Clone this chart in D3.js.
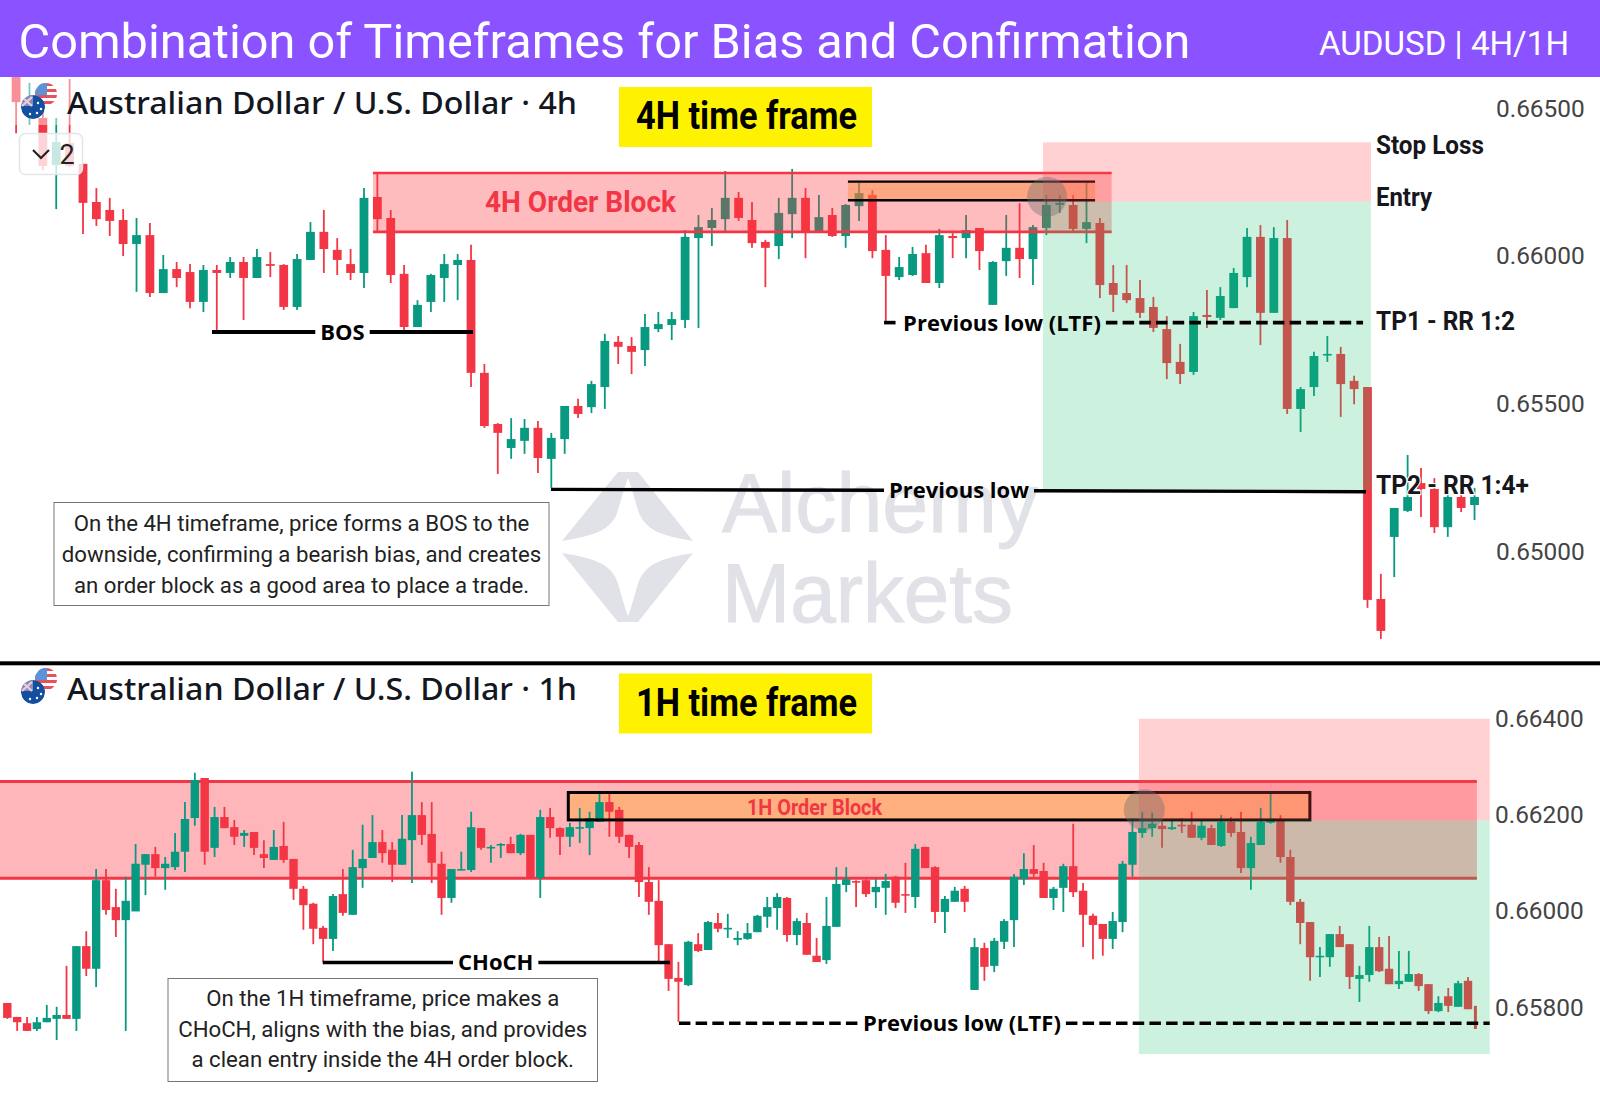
<!DOCTYPE html>
<html>
<head>
<meta charset="utf-8">
<title>Combination of Timeframes</title>
<script src="https://cdn.jsdelivr.net/npm/d3@7"></script>
<style>
  html, body { margin: 0; padding: 0; background: #fff; }
  svg { display: block; }
</style>
</head>
<body>
<div id="chart"></div>
<script>
// ---- 4H candles
var h4Open = [0.6663,0.66504,0.66467,0.66308,0.66382,0.66312,0.66183,0.66156,0.66122,0.66041,0.66071,0.65875,0.65956,0.65946,0.65845,0.65953,0.65943,0.6598,0.65926,0.65973,0.6597,0.65828,0.65987,0.66082,0.66021,0.65973,0.65943,0.662,0.66129,0.6594,0.6576,0.65845,0.65926,0.6597,0.65987,0.65605,0.65432,0.65351,0.65375,0.65419,0.65314,0.65381,0.65493,0.65489,0.65557,0.6571,0.65696,0.65682,0.65753,0.65767,0.65784,0.66061,0.66095,0.66125,0.66197,0.66122,0.66048,0.66034,0.66142,0.66197,0.66085,0.66139,0.66068,0.66169,0.66207,0.66021,0.65929,0.65936,0.6601,0.65909,0.66068,0.66061,0.66095,0.65835,0.65983,0.66028,0.6599,0.66095,0.66173,0.66173,0.66092,0.66112,0.65909,0.65875,0.65858,0.65828,0.65753,0.65642,0.65608,0.65801,0.65791,0.65824,0.65929,0.66065,0.65808,0.66061,0.65483,0.65557,0.65665,0.65669,0.65578,0.65557,0.6484,0.6505,0.65138,0.65232,0.65212,0.65083,0.65185,0.65158];
var h4High = [0.6663,0.66586,0.66488,0.66467,0.66599,0.66312,0.6623,0.66197,0.66159,0.66129,0.66112,0.66004,0.6598,0.65973,0.6597,0.6597,0.65997,0.65997,0.66024,0.66014,0.65973,0.66007,0.66115,0.66156,0.66061,0.66024,0.6623,0.66281,0.66156,0.6597,0.65851,0.6594,0.66007,0.66007,0.66038,0.65635,0.65435,0.65452,0.65449,0.65442,0.65402,0.65493,0.65517,0.65578,0.65737,0.6573,0.65726,0.65804,0.65811,0.65811,0.66088,0.66139,0.66163,0.66288,0.66217,0.66183,0.66055,0.66197,0.66295,0.6623,0.66207,0.66163,0.66176,0.66247,0.66223,0.66071,0.65997,0.66031,0.66038,0.66092,0.66078,0.66139,0.66095,0.65983,0.66139,0.66179,0.66105,0.66207,0.66207,0.66207,0.66247,0.66129,0.6597,0.6597,0.65919,0.65862,0.65797,0.65703,0.65811,0.65885,0.65895,0.6596,0.66095,0.66105,0.66098,0.66122,0.65557,0.65676,0.6573,0.65693,0.65595,0.65557,0.64925,0.65148,0.65327,0.65283,0.65249,0.65219,0.65209,0.65216];
var h4Low = [0.66416,0.66444,0.66291,0.66159,0.66301,0.66075,0.66102,0.66068,0.66,0.65879,0.65862,0.65875,0.65895,0.65824,0.65811,0.65743,0.65926,0.65784,0.65926,0.65929,0.65818,0.65818,0.65987,0.65943,0.65936,0.65919,0.65892,0.66078,0.65909,0.6575,0.6576,0.65811,0.65845,0.65851,0.65557,0.65419,0.65263,0.65314,0.65331,0.65266,0.65216,0.65331,0.65452,0.65469,0.65483,0.65635,0.65601,0.65628,0.65743,0.65716,0.65757,0.65757,0.66034,0.66085,0.66119,0.66028,0.65895,0.6599,0.66061,0.65993,0.66082,0.66065,0.66028,0.66119,0.65993,0.65777,0.65919,0.65933,0.65909,0.65892,0.65993,0.65993,0.65953,0.65835,0.65933,0.65926,0.65902,0.66071,0.66146,0.66082,0.66044,0.65858,0.65811,0.65841,0.65791,0.65743,0.65584,0.65567,0.65598,0.65757,0.65784,0.65824,0.65895,0.65699,0.65808,0.65466,0.65405,0.65527,0.65642,0.65456,0.65499,0.6481,0.64705,0.64914,0.65134,0.65117,0.65063,0.6505,0.65134,0.65107];
var h4Close = [0.66521,0.66515,0.66305,0.66386,0.66305,0.6618,0.66125,0.66119,0.66041,0.66071,0.65875,0.65956,0.65926,0.65845,0.65953,0.65943,0.6598,0.65926,0.65997,0.65967,0.65828,0.6599,0.66082,0.66024,0.65987,0.65943,0.66197,0.66125,0.65936,0.6576,0.65835,0.65936,0.65973,0.65987,0.65605,0.65425,0.65402,0.65381,0.65419,0.65317,0.65385,0.65493,0.65466,0.65567,0.65713,0.65693,0.65676,0.6576,0.6577,0.65787,0.66065,0.66098,0.66122,0.66197,0.66129,0.66044,0.66028,0.66146,0.66197,0.66082,0.66132,0.66068,0.66173,0.66213,0.66017,0.65933,0.65963,0.66007,0.65909,0.66071,0.66061,0.66088,0.66017,0.6598,0.66028,0.6599,0.66098,0.66173,0.6618,0.66092,0.66115,0.65902,0.65869,0.65851,0.65808,0.65757,0.65638,0.65601,0.65797,0.65794,0.65865,0.65943,0.66065,0.65808,0.66061,0.65483,0.6555,0.65662,0.65669,0.65567,0.6555,0.64837,0.64732,0.65148,0.65185,0.65212,0.65083,0.65185,0.65148,0.65185];

// ---- 1H candles
var h1Open = [0.65809,0.6578,0.65767,0.65755,0.65769,0.65776,0.65784,0.65776,0.65927,0.6588,0.66064,0.66008,0.65981,0.65999,0.66096,0.66118,0.66089,0.66091,0.66123,0.66193,0.66276,0.66131,0.66195,0.66174,0.66156,0.66164,0.66118,0.66106,0.66135,0.66108,0.66046,0.66015,0.65965,0.65942,0.66035,0.65992,0.66089,0.6611,0.66143,0.66127,0.66096,0.66147,0.66199,0.6616,0.66098,0.66027,0.66085,0.66085,0.66172,0.66131,0.66137,0.66139,0.6612,0.66158,0.66069,0.66195,0.66172,0.66154,0.66172,0.66172,0.66185,0.66226,0.6621,0.66158,0.66137,0.6606,0.66021,0.65931,0.65861,0.65846,0.65931,0.65919,0.65975,0.65963,0.6594,0.65942,0.65956,0.65988,0.66006,0.66027,0.6595,0.65975,0.65907,0.65898,0.65967,0.66054,0.66062,0.66064,0.66039,0.66048,0.66071,0.66035,0.66029,0.66133,0.66091,0.65998,0.66019,0.66046,0.65836,0.65923,0.65886,0.65936,0.65981,0.66066,0.66087,0.66083,0.66027,0.66048,0.66093,0.66042,0.6599,0.65973,0.65942,0.65977,0.66096,0.66162,0.66172,0.66177,0.6617,0.66179,0.66179,0.66152,0.66172,0.66135,0.66185,0.66164,0.66089,0.66137,0.66183,0.66187,0.66112,0.66019,0.65977,0.65904,0.65904,0.65952,0.65931,0.65859,0.65867,0.65925,0.6588,0.65848,0.65853,0.65869,0.65848,0.65792,0.65823,0.65801,0.65855,0.65803];
var h1High = [0.65809,0.6578,0.6578,0.6578,0.65805,0.65801,0.65886,0.65927,0.65958,0.66087,0.66087,0.66046,0.66071,0.66139,0.66118,0.66133,0.66112,0.66162,0.66226,0.66287,0.66276,0.66216,0.66216,0.66189,0.66168,0.66164,0.66147,0.66168,0.66185,0.66108,0.66052,0.66017,0.65969,0.66035,0.66087,0.66127,0.66179,0.66199,0.66168,0.66143,0.66199,0.66289,0.66226,0.66226,0.66123,0.66087,0.66123,0.66206,0.66172,0.66137,0.66141,0.66154,0.6616,0.66158,0.6621,0.66214,0.66174,0.66183,0.66214,0.66206,0.66245,0.66245,0.66216,0.66158,0.66143,0.66091,0.66064,0.65931,0.65894,0.65938,0.65954,0.65979,0.65996,0.65994,0.65958,0.65975,0.65992,0.66029,0.66037,0.66029,0.65985,0.65996,0.65944,0.66029,0.66091,0.66091,0.66064,0.66066,0.66066,0.66077,0.66073,0.661,0.66139,0.66133,0.66093,0.66031,0.6605,0.66052,0.65944,0.65934,0.65944,0.65983,0.66077,0.6612,0.66137,0.661,0.6605,0.66098,0.66181,0.66058,0.65994,0.65973,0.65998,0.66104,0.66193,0.66206,0.66204,0.66185,0.66187,0.66193,0.66206,0.66187,0.66179,0.66199,0.66195,0.66206,0.66154,0.66214,0.66245,0.66199,0.66127,0.66025,0.65977,0.65925,0.65952,0.65969,0.65931,0.65886,0.65969,0.65946,0.65948,0.65917,0.65917,0.65871,0.65848,0.65823,0.6584,0.65855,0.65863,0.65803];
var h1Low = [0.65776,0.65751,0.65751,0.65751,0.65769,0.65732,0.65776,0.65751,0.65865,0.65842,0.65992,0.65946,0.65751,0.66015,0.66033,0.66071,0.66044,0.66085,0.66081,0.66177,0.66096,0.66112,0.66172,0.66137,0.66133,0.66116,0.66089,0.66106,0.661,0.66023,0.65961,0.65931,0.65894,0.65917,0.6599,0.65992,0.66048,0.6611,0.661,0.6606,0.66096,0.66058,0.66137,0.66058,0.65992,0.66017,0.66085,0.66081,0.66127,0.661,0.6611,0.6612,0.66116,0.66069,0.66027,0.66152,0.66116,0.66133,0.66141,0.66116,0.66185,0.66154,0.66141,0.6611,0.66029,0.65992,0.65894,0.65834,0.6577,0.65844,0.65915,0.65919,0.65956,0.65944,0.65929,0.6594,0.65956,0.65965,0.65961,0.65936,0.65929,0.65909,0.65894,0.6589,0.65967,0.66039,0.66008,0.66029,0.66006,0.65992,0.66006,0.65996,0.66006,0.66089,0.65975,0.65954,0.66019,0.65998,0.65836,0.65855,0.65873,0.65921,0.65925,0.66054,0.66071,0.66027,0.66002,0.65998,0.66029,0.65925,0.659,0.65907,0.65921,0.65956,0.66071,0.66152,0.66154,0.66131,0.66168,0.66162,0.66152,0.66147,0.66137,0.66133,0.66154,0.66079,0.66044,0.66137,0.66181,0.661,0.66012,0.65931,0.65855,0.65863,0.65884,0.65925,0.65838,0.65811,0.65853,0.65873,0.65848,0.65838,0.65853,0.65834,0.65786,0.6579,0.6579,0.65801,0.65796,0.65755];
var h1Close = [0.65778,0.65769,0.65751,0.65769,0.65778,0.65784,0.65776,0.65927,0.6588,0.66064,0.66002,0.65981,0.66021,0.66098,0.66118,0.66089,0.66098,0.66123,0.66191,0.66272,0.66123,0.66195,0.66172,0.66154,0.66162,0.66131,0.6611,0.66133,0.66106,0.66046,0.66012,0.65963,0.65942,0.66031,0.65996,0.66091,0.66108,0.66143,0.6612,0.66096,0.6615,0.66199,0.66158,0.661,0.66027,0.66087,0.66087,0.66174,0.66131,0.66133,0.66139,0.6612,0.66158,0.66069,0.66195,0.66172,0.66154,0.66174,0.66174,0.66193,0.66226,0.66206,0.66154,0.66133,0.6606,0.66019,0.65929,0.65859,0.65853,0.65936,0.65917,0.65977,0.65963,0.65965,0.65944,0.65954,0.6599,0.66008,0.66029,0.6595,0.65979,0.65909,0.65894,0.65969,0.66056,0.66066,0.6606,0.66035,0.6605,0.66062,0.66017,0.66033,0.66129,0.66089,0.65998,0.66025,0.66042,0.66019,0.65925,0.65884,0.65938,0.65979,0.66071,0.66087,0.66077,0.66027,0.66046,0.66093,0.66039,0.65992,0.65971,0.65942,0.65979,0.66098,0.66164,0.66172,0.66181,0.6617,0.66174,0.66177,0.66152,0.66177,0.66137,0.66185,0.66162,0.66089,0.66141,0.66185,0.66191,0.66112,0.66019,0.65975,0.65904,0.65907,0.65952,0.65925,0.65863,0.65867,0.65925,0.65875,0.65848,0.65855,0.65869,0.65844,0.65792,0.65809,0.65803,0.6585,0.65796,0.658];

// ---- tick labels and annotation levels
var h4Ticks = [0.665, 0.66, 0.655, 0.65];
var h1Ticks = [0.664, 0.662, 0.66, 0.658];
var h4Zone = [0.66281, 0.66082], h4ZoneBars = [26.67, 81.88];
var h4Box = [0.66252, 0.66189], h4BoxBars = [62.17, 80.64];
var h4RR = [0.66385, 0.66184, 0.65209], h4RRBars = [76.75, 101.26];
var h1Zone = [0.66269, 0.66068], h1ZoneBars = [-0.74, 148.9];
var h1Box = [0.66246, 0.66189], h1BoxBars = [56.84, 131.98];
var h1RR = [0.66399, 0.66188, 0.65703], h1RRBars = [114.66, 150.2];
var h4Lines = [
  {label: "BOS", bars: [14.64, 34.15], price: [0.65743, 0.65743], cx: 342.5, dash: false, w: 4},
  {label: "Previous low (LTF)", bars: [64.87, 100.67], price: [0.65775, 0.65775], cx: 1002, dash: true, w: 3.6},
  {label: "Previous low", bars: [39.98, 100.89], price: [0.65211, 0.65203], cx: 959, dash: false, w: 3.4}
];
var h1Lines = [
  {label: "CHoCH", bars: [31.96, 67.14], price: [0.65893, 0.65893], cx: 495.7, dash: false, w: 3.6},
  {label: "Previous low (LTF)", bars: [68.05, 150.2], price: [0.65767, 0.65767], cx: 962, dash: true, w: 3.6}
];
var h4Side = ["Stop Loss", "Entry", "TP1 - RR 1:2", "TP2 - RR 1:4+"];
var h4Note = ["On the 4H timeframe, price forms a BOS to the", "downside, confirming a bearish bias, and creates", "an order block as a good area to place a trade."];
var h1Note = ["On the 1H timeframe, price makes a", "CHoCH, aligns with the bias, and provides", "a clean entry inside the 4H order block."];

var width = 1600, height = 1095;
var RED = "#f23645", GREEN = "#089981";
var svg = d3.select("#chart").append("svg").attr("width", width).attr("height", height);
svg.append("rect").attr("width", width).attr("height", height).attr("fill", "#fff");

var x4 = d3.scaleLinear().domain([5, 105]).range([83, 1421]);
var y4 = d3.scaleLinear().domain([0.65, 0.665]).range([551.7, 108.3]);
var x1 = d3.scaleLinear().domain([0, 148]).range([7.3, 1468]);
var y1 = d3.scaleLinear().domain([0.658, 0.664]).range([1007.3, 718.3]);

// watermark sits under everything
var wm = svg.append("g").attr("fill", "#e1e1e8");
var star = "M562 541L618 472L638 472L693 541C665 536 645 532 638 510C634 497 631 485 628 478C625 485 622 497 618 510C612 532 590 536 562 541Z";
wm.append("path").attr("d", star);
wm.append("path").attr("d", star).attr("transform", "translate(0,1094) scale(1,-1)");
wm.append("text").attr("x", 722).attr("y", 531.5).attr("font-family", "Liberation Sans").attr("font-size", 84).attr("stroke", "#e1e1e8").attr("stroke-width", 1).attr("textLength", 316).attr("lengthAdjust", "spacingAndGlyphs").text("Alchemy");
wm.append("text").attr("x", 722).attr("y", 621.5).attr("font-family", "Liberation Sans").attr("font-size", 84).attr("stroke", "#e1e1e8").attr("stroke-width", 1).attr("textLength", 291).attr("lengthAdjust", "spacingAndGlyphs").text("Markets");

function drawCandles(open, high, low, close, x, y, bodyW, thinLast) {
  var g = svg.append("g");
  var rows = open.map(function(d, i) { return {i: i, o: d, h: high[i], l: low[i], c: close[i], thin: thinLast && i === open.length - 1}; });
  var c = g.selectAll("g").data(rows).enter().append("g");
  c.append("line")
    .attr("x1", function(d) { return x(d.thin ? d.i - 0.25 : d.i); })
    .attr("x2", function(d) { return x(d.thin ? d.i - 0.25 : d.i); })
    .attr("y1", function(d) { return y(d.h); })
    .attr("y2", function(d) { return y(d.l); })
    .attr("stroke", function(d) { return d.c >= d.o ? GREEN : RED; })
    .attr("stroke-width", function(d) { return d.thin ? 3 : 1.8; });
  c.filter(function(d) { return !d.thin; }).append("rect")
    .attr("x", function(d) { return x(d.i) - bodyW / 2; })
    .attr("width", bodyW)
    .attr("y", function(d) { return y(Math.max(d.o, d.c)); })
    .attr("height", function(d) { return Math.max(1.6, Math.abs(y(d.o) - y(d.c))); })
    .attr("fill", function(d) { return d.c >= d.o ? GREEN : RED; });
}

function band(x, y, bars, prices, fill) {
  return svg.append("rect")
    .attr("x", x(bars[0])).attr("width", x(bars[1]) - x(bars[0]))
    .attr("y", y(prices[0])).attr("height", y(prices[1]) - y(prices[0]))
    .attr("fill", fill);
}

function hline(x, y, bars, price, color, w) {
  svg.append("line")
    .attr("x1", x(bars[0])).attr("x2", x(bars[1]))
    .attr("y1", y(price)).attr("y2", y(price))
    .attr("stroke", color).attr("stroke-width", w);
}

function riskReward(x, y, bars, rr) {
  band(x, y, bars, [rr[0], rr[1]], "rgba(255,70,80,.25)");
  band(x, y, bars, [rr[1], rr[2]], "rgba(23,196,110,.22)");
}

// condensed bold text, squeezed to the measured width
function tight(str, left, cy, size, len, color) {
  return svg.append("text")
    .attr("x", left).attr("y", cy).attr("dy", "0.355em")
    .attr("font-family", "Roboto").attr("font-weight", 700).attr("font-size", size)
    .attr("textLength", len).attr("lengthAdjust", "spacingAndGlyphs")
    .attr("fill", color).text(str);
}

function labeledLine(d, x, y) {
  var x0 = x(d.bars[0]), x1_ = x(d.bars[1]), y0 = y(d.price[0]), yy = y(d.price[1]);
  var t = svg.append("text").attr("x", d.cx).attr("y", (y0 + yy) / 2).attr("dy", "0.36em")
    .attr("text-anchor", "middle").attr("font-family", "Open Sans").attr("font-weight", 700)
    .attr("font-size", 22).attr("fill", "#000").text(d.label);
  var half = t.node().getComputedTextLength() / 2;
  [[x0, d.cx - half - 5], [d.cx + half + 5, x1_]].forEach(function(s) {
    var f = function(v) { return y0 + (yy - y0) * (v - x0) / (x1_ - x0); };
    svg.append("line").attr("x1", s[0]).attr("x2", s[1]).attr("y1", f(s[0])).attr("y2", f(s[1]))
      .attr("stroke", "#000").attr("stroke-width", d.w)
      .attr("stroke-dasharray", d.dash ? "11.5,5.2" : null);
  });
}

function noteBox(lines, bx, by, bw, bh, ys) {
  svg.append("rect").attr("x", bx).attr("y", by).attr("width", bw).attr("height", bh)
    .attr("fill", "#fff").attr("stroke", "#777").attr("stroke-width", 1);
  lines.forEach(function(s, i) {
    svg.append("text").attr("x", bx + bw / 2).attr("y", ys[i]).attr("dy", "0.355em")
      .attr("text-anchor", "middle").attr("font-family", "Roboto").attr("font-size", 22.2)
      .attr("fill", "#222").text(s);
  });
}

function flag(cx, cy) {
  var id = "f" + cy;
  var defs = svg.append("defs");
  defs.append("clipPath").attr("id", id + "u").append("circle").attr("cx", cx + 13).attr("cy", cy - 13).attr("r", 11);
  defs.append("clipPath").attr("id", id + "a").append("circle").attr("cx", cx).attr("cy", cy).attr("r", 12);
  var us = svg.append("g").attr("clip-path", "url(#" + id + "u)");
  us.append("rect").attr("x", cx).attr("y", cy - 25).attr("width", 26).attr("height", 24).attr("fill", "#fff");
  d3.range(4).forEach(function(i) {
    us.append("rect").attr("x", cx).attr("y", cy - 24 + i * 6).attr("width", 26).attr("height", 3).attr("fill", "#e8505b");
  });
  us.append("rect").attr("x", cx).attr("y", cy - 25).attr("width", 14).attr("height", 13).attr("fill", "#5b93d8");
  var au = svg.append("g").attr("clip-path", "url(#" + id + "a)");
  au.append("circle").attr("cx", cx).attr("cy", cy).attr("r", 12).attr("fill", "#134fa0");
  au.append("rect").attr("x", cx - 12).attr("y", cy - 12).attr("width", 12).attr("height", 11).attr("fill", "#7d8fc4");
  au.append("path").attr("d", "M" + (cx - 11) + " " + (cy - 10) + "L" + (cx - 1) + " " + (cy - 1) + "M" + (cx - 1) + " " + (cy - 10) + "L" + (cx - 11) + " " + (cy - 1))
    .attr("stroke", "#f7c9cc").attr("stroke-width", 2.2);
  [[-3, 7], [5, -4], [8, 2], [4, 6]].forEach(function(p) {
    au.append("circle").attr("cx", cx + p[0]).attr("cy", cy + p[1]).attr("r", 1.2).attr("fill", "#fff");
  });
}

function sideAxis(y, ticks, left) {
  var ax = svg.append("g").attr("transform", "translate(" + left + ",0)")
    .call(d3.axisRight(y).tickValues(ticks).tickSize(0).tickPadding(0).tickFormat(d3.format(".5f")));
  ax.select(".domain").remove();
  ax.selectAll("text").attr("font-family", "Roboto").attr("font-size", 24.4).attr("fill", "#444");
}

function titleRow(str, flagY, textY, yellow, boxY) {
  flag(33, flagY);
  svg.append("text").attr("x", 67).attr("y", textY).attr("dy", "0.36em")
    .attr("font-family", "Noto Sans").attr("font-size", 31).attr("font-weight", 500).attr("fill", "#131722")
    .attr("textLength", 510).attr("lengthAdjust", "spacingAndGlyphs").text(str);
  svg.append("rect").attr("x", 619).attr("y", boxY).attr("width", 253).attr("height", 60).attr("fill", "#fff200");
  tight(yellow, 636, boxY + 29, 38, 221, "#000");
}

// ---- 4H panel
drawCandles(h4Open, h4High, h4Low, h4Close, x4, y4, 8.8, false);
band(x4, y4, h4ZoneBars, h4Zone, "rgba(255,52,58,.33)");
hline(x4, y4, h4ZoneBars, h4Zone[0], RED, 2.6);
hline(x4, y4, h4ZoneBars, h4Zone[1], RED, 2.6);
band(x4, y4, h4BoxBars, h4Box, "rgba(255,140,60,.45)");
hline(x4, y4, h4BoxBars, h4Box[0], "#000", 2.4);
hline(x4, y4, h4BoxBars, h4Box[1], "#000", 2.4);
riskReward(x4, y4, h4RRBars, h4RR);
svg.append("circle").attr("cx", x4(77.05)).attr("cy", y4(0.66201)).attr("r", 20).attr("fill", "rgba(110,110,110,.4)");
tight("4H Order Block", 485, 201, 30, 191, RED);
h4Lines.forEach(function(d) { labeledLine(d, x4, y4); });

tight(h4Side[0], 1376, 145, 26, 108, "#15171c");
tight(h4Side[1], 1376, 197, 26, 56, "#15171c");
tight(h4Side[2], 1376, 321, 26, 139, "#15171c");
tight(h4Side[3], 1376, 484.5, 26, 153, "#15171c")
  .attr("stroke", "#fff").attr("stroke-width", 2.5).attr("paint-order", "stroke");
sideAxis(y4, h4Ticks, 1496);
noteBox(h4Note, 54, 502.5, 495, 103, [523, 554, 585]);

// the legend row fades the old candles behind it
svg.append("rect").attr("x", 0).attr("y", 77).attr("width", 80).attr("height", 48).attr("fill", "rgba(255,255,255,.45)");
// "2" pill on top of the old candles
svg.append("rect").attr("x", 19.5).attr("y", 133.5).attr("width", 63).attr("height", 41).attr("rx", 6)
  .attr("fill", "rgba(255,255,255,.78)").attr("stroke", "#e4e5ea").attr("stroke-width", 1.5);
svg.append("path").attr("d", "M33 150L41 158L49 150").attr("fill", "none").attr("stroke", "#222").attr("stroke-width", 2.2);
svg.append("text").attr("x", 67).attr("y", 154).attr("dy", "0.36em").attr("text-anchor", "middle")
  .attr("font-family", "Roboto").attr("font-size", 27).attr("fill", "#222").text("2");
titleRow("Australian Dollar / U.S. Dollar \u00b7 4h", 107, 103, "4H time frame", 87);

// ---- separator
svg.append("rect").attr("x", 0).attr("y", 661.3).attr("width", width).attr("height", 4).attr("fill", "#000");

// ---- 1H panel
band(x1, y1, h1ZoneBars, h1Zone, "#ffb6bb");
hline(x1, y1, h1ZoneBars, h1Zone[0], RED, 3);
hline(x1, y1, h1ZoneBars, h1Zone[1], RED, 3);
band(x1, y1, h1BoxBars, h1Box, "#ffb07f");
drawCandles(h1Open, h1High, h1Low, h1Close, x1, y1, 8.4, true);
svg.append("rect")
  .attr("x", x1(h1BoxBars[0])).attr("width", x1(h1BoxBars[1]) - x1(h1BoxBars[0]))
  .attr("y", y1(h1Box[0])).attr("height", y1(h1Box[1]) - y1(h1Box[0]))
  .attr("fill", "none").attr("stroke", "#000").attr("stroke-width", 3);
tight("1H Order Block", 747, 807, 22, 135, RED);
riskReward(x1, y1, h1RRBars, h1RR);
svg.append("circle").attr("cx", x1(115.2)).attr("cy", y1(0.6621)).attr("r", 20.5).attr("fill", "rgba(110,110,110,.4)");
h1Lines.forEach(function(d) { labeledLine(d, x1, y1); });
sideAxis(y1, h1Ticks, 1495);
noteBox(h1Note, 168, 978.5, 429.5, 103, [998, 1029, 1059]);
titleRow("Australian Dollar / U.S. Dollar \u00b7 1h", 692, 689, "1H time frame", 673.5);

// ---- header band goes last, old candles run under it
svg.append("rect").attr("width", width).attr("height", 77).attr("fill", "#8b52ff");
svg.append("text").attr("x", 18.5).attr("y", 41).attr("dy", "0.355em")
  .attr("font-family", "Roboto").attr("font-size", 49).attr("fill", "#fff")
  .attr("textLength", 1172).attr("lengthAdjust", "spacingAndGlyphs")
  .text("Combination of Timeframes for Bias and Confirmation");
svg.append("text").attr("x", 1319).attr("y", 43).attr("dy", "0.355em")
  .attr("font-family", "Roboto").attr("font-size", 32.5).attr("fill", "#fff")
  .attr("textLength", 250).attr("lengthAdjust", "spacingAndGlyphs")
  .text("AUDUSD | 4H/1H");
</script>
</body>
</html>
